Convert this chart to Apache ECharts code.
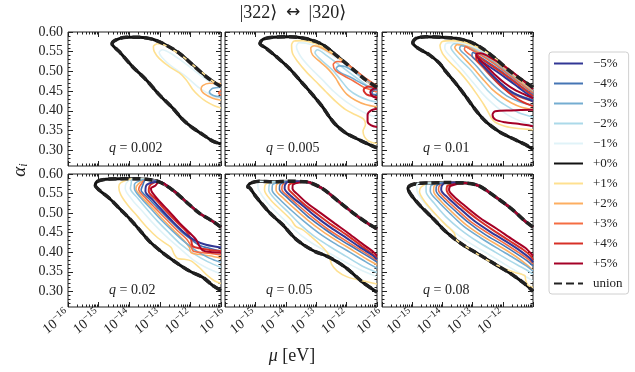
<!DOCTYPE html>
<html>
<head>
<meta charset="utf-8">
<script src="https://cdn.jsdelivr.net/npm/echarts@6/dist/echarts.min.js"></script>
<style>
  html, body { margin: 0; padding: 0; background: #fff; }
  #chart { width: 635px; height: 372px; }
</style>
</head>
<body>
<div id="chart"></div>
<script>
// contour levels, legend order
const levels = ['−5%', '−4%', '−3%', '−2%', '−1%', '+0%', '+1%', '+2%', '+3%', '+4%', '+5%']
const levelColors = {
  '−5%': '#313695', '−4%': '#4575b4', '−3%': '#74add1', '−2%': '#abd9e9', '−1%': '#e0f3f8',
  '+0%': '#111111',
  '+1%': '#fee090', '+2%': '#fdae61', '+3%': '#f46d43', '+4%': '#d73027', '+5%': '#a50026'
}
// draw order of the coloured levels (last on top)
const drawOrder = ['−1%', '+1%', '−2%', '+2%', '−3%', '+3%', '−4%', '+4%', '−5%', '+5%']
const panelLabels = ['0.002', '0.005', '0.01', '0.02', '0.05', '0.08']
const xTickExps = [-16, -15, -14, -13, -12]
const yTickLabels = [0.30, 0.35, 0.40, 0.45, 0.50, 0.55, 0.60]

// points are [log10(mu / eV), alpha_i]
const q002 = {
  top: [[-14.56, 0.570], [-14.43, 0.580], [-14.10, 0.5865], [-13.67, 0.5865], [-13.23, 0.5815], [-12.80, 0.567], [-12.36, 0.546], [-11.93, 0.517], [-11.49, 0.487], [-11.16, 0.469], [-11.0, 0.462]],
  bottom: [[-14.56, 0.570], [-14.32, 0.550], [-13.89, 0.512], [-13.45, 0.479], [-13.02, 0.441], [-12.58, 0.407], [-12.25, 0.378], [-11.93, 0.357], [-11.60, 0.340], [-11.27, 0.323], [-11.0, 0.316]],
  contours: {
    '+1%': [[[-11.0, 0.464], [-11.27, 0.475], [-11.60, 0.496], [-11.93, 0.517], [-12.25, 0.538], [-12.58, 0.555], [-12.85, 0.567], [-13.07, 0.570], [-13.21, 0.563], [-13.18, 0.550], [-13.02, 0.533], [-12.69, 0.512], [-12.36, 0.496], [-12.14, 0.479], [-11.93, 0.455], [-11.71, 0.437], [-11.49, 0.424], [-11.22, 0.413], [-11.0, 0.407]]],
    '−1%': [[[-11.0, 0.458], [-11.49, 0.480], [-11.93, 0.506], [-12.36, 0.531], [-12.69, 0.548], [-12.91, 0.555], [-13.02, 0.548], [-12.85, 0.529], [-12.53, 0.508], [-12.14, 0.487], [-11.71, 0.458], [-11.27, 0.437], [-11.0, 0.427]]],
    '+2%': [[[-11.0, 0.469], [-11.38, 0.470], [-11.60, 0.464], [-11.65, 0.455], [-11.54, 0.443], [-11.27, 0.432], [-11.0, 0.427]]],
    '−3%': [[[-11.0, 0.460], [-11.27, 0.457], [-11.38, 0.448], [-11.25, 0.439], [-11.0, 0.435]]],
    '+3%': [[[-11.0, 0.451], [-11.08, 0.445], [-11.0, 0.439]]]
  }
}

const q005 = {
  top: [[-14.85, 0.571], [-14.76, 0.581], [-14.43, 0.5865], [-13.89, 0.588], [-13.45, 0.585], [-13.02, 0.576], [-12.69, 0.563], [-12.36, 0.542], [-12.03, 0.521], [-11.71, 0.500], [-11.38, 0.479], [-11.0, 0.460]],
  bottom: [[-14.85, 0.571], [-14.65, 0.559], [-14.32, 0.538], [-13.89, 0.508], [-13.45, 0.470], [-13.12, 0.441], [-12.80, 0.411], [-12.58, 0.386], [-12.36, 0.365], [-12.03, 0.344], [-11.60, 0.327], [-11.27, 0.315], [-11.0, 0.306]],
  contours: {
    '+1%': [[[-11.0, 0.460], [-11.38, 0.481], [-11.71, 0.502], [-12.14, 0.528], [-12.58, 0.553], [-13.02, 0.570], [-13.45, 0.578], [-13.72, 0.577], [-13.81, 0.567], [-13.78, 0.546], [-13.61, 0.525], [-13.34, 0.500], [-13.02, 0.475], [-12.69, 0.449], [-12.36, 0.424], [-12.03, 0.403], [-11.71, 0.390], [-11.44, 0.379], [-11.38, 0.365], [-11.46, 0.348], [-11.41, 0.334], [-11.27, 0.323], [-11.0, 0.317]]],
    '−1%': [[[-11.0, 0.455], [-11.49, 0.483], [-12.03, 0.517], [-12.58, 0.546], [-13.12, 0.567], [-13.56, 0.573], [-13.65, 0.563], [-13.51, 0.538], [-13.18, 0.508], [-12.80, 0.479], [-12.42, 0.449], [-12.03, 0.424], [-11.60, 0.403], [-11.27, 0.390], [-11.0, 0.384]]],
    '+2%': [[[-11.0, 0.454], [-11.38, 0.479], [-11.71, 0.500], [-12.03, 0.521], [-12.36, 0.539], [-12.80, 0.559], [-13.07, 0.565], [-13.18, 0.559], [-13.12, 0.542], [-12.85, 0.523], [-12.58, 0.504], [-12.36, 0.483], [-12.20, 0.462], [-11.98, 0.441], [-11.71, 0.427], [-11.38, 0.416], [-11.0, 0.410]]],
    '−2%': [[[-11.0, 0.446], [-11.38, 0.467], [-11.82, 0.492], [-12.25, 0.517], [-12.69, 0.542], [-12.96, 0.555], [-13.04, 0.548], [-12.85, 0.530], [-12.47, 0.504], [-12.20, 0.479], [-11.93, 0.454], [-11.60, 0.437], [-11.27, 0.427], [-11.0, 0.422]]],
    '−3%': [[[-11.0, 0.462], [-11.38, 0.479], [-11.71, 0.497], [-12.03, 0.512], [-12.25, 0.514], [-12.34, 0.508], [-12.20, 0.497], [-11.87, 0.485], [-11.49, 0.469], [-11.22, 0.459], [-11.0, 0.454]]],
    '+3%': [[[-11.0, 0.464], [-11.38, 0.483], [-11.76, 0.506], [-12.09, 0.523], [-12.31, 0.525], [-12.44, 0.517], [-12.36, 0.502], [-12.09, 0.489], [-11.76, 0.475], [-11.44, 0.460], [-11.16, 0.452], [-11.0, 0.448]]],
    '−4%': [[[-11.0, 0.454], [-11.16, 0.451], [-11.16, 0.443], [-11.0, 0.441]]],
    '+4%': [[[-11.0, 0.460], [-11.27, 0.462], [-11.44, 0.453], [-11.33, 0.441], [-11.0, 0.435]]],
    '+5%': [
      [[-11.0, 0.457], [-11.14, 0.455], [-11.22, 0.447], [-11.14, 0.437], [-11.0, 0.432]],
      [[-11.0, 0.405], [-11.19, 0.401], [-11.31, 0.390], [-11.31, 0.373], [-11.19, 0.363], [-11.0, 0.359]]
    ]
  }
}

const q01 = {
  top: [[-14.98, 0.573], [-14.87, 0.584], [-14.54, 0.588], [-14.0, 0.5865], [-13.56, 0.584], [-13.12, 0.576], [-12.69, 0.559], [-12.25, 0.533], [-11.82, 0.504], [-11.38, 0.479], [-11.0, 0.460]],
  bottom: [[-14.98, 0.573], [-14.81, 0.559], [-14.43, 0.542], [-14.10, 0.521], [-13.89, 0.500], [-13.56, 0.470], [-13.23, 0.437], [-12.91, 0.403], [-12.58, 0.374], [-12.14, 0.348], [-11.71, 0.331], [-11.27, 0.315], [-11.0, 0.302]],
  contours: {
    '+1%': [[[-11.0, 0.455], [-11.49, 0.485], [-11.93, 0.514], [-12.36, 0.539], [-12.80, 0.560], [-13.23, 0.573], [-13.67, 0.578], [-14.0, 0.576], [-14.08, 0.565], [-14.0, 0.546], [-13.78, 0.525], [-13.45, 0.500], [-13.12, 0.470], [-12.85, 0.441], [-12.63, 0.416], [-12.47, 0.395], [-12.38, 0.382], [-12.25, 0.371], [-11.93, 0.361], [-11.49, 0.355], [-11.0, 0.352]]],
    '−1%': [[[-11.0, 0.453], [-11.49, 0.483], [-11.93, 0.511], [-12.36, 0.536], [-12.80, 0.556], [-13.23, 0.569], [-13.67, 0.573], [-13.89, 0.570], [-13.92, 0.559], [-13.67, 0.533], [-13.34, 0.504], [-13.02, 0.475], [-12.69, 0.445], [-12.36, 0.420], [-12.03, 0.399], [-11.71, 0.384], [-11.38, 0.373], [-11.0, 0.363]]],
    '−2%': [[[-11.0, 0.452], [-11.49, 0.480], [-11.93, 0.507], [-12.36, 0.533], [-12.80, 0.553], [-13.23, 0.565], [-13.61, 0.570], [-13.72, 0.561], [-13.45, 0.533], [-13.12, 0.508], [-12.80, 0.479], [-12.47, 0.449], [-12.14, 0.426], [-11.82, 0.410], [-11.49, 0.396], [-11.0, 0.384]]],
    '+2%': [[[-11.0, 0.449], [-11.49, 0.479], [-11.93, 0.506], [-12.36, 0.529], [-12.80, 0.549], [-13.18, 0.563], [-13.51, 0.568], [-13.59, 0.561], [-13.34, 0.538], [-13.02, 0.512], [-12.69, 0.483], [-12.36, 0.455], [-12.03, 0.435], [-11.71, 0.420], [-11.38, 0.409], [-11.0, 0.403]]],
    '−3%': [[[-11.0, 0.447], [-11.49, 0.475], [-11.93, 0.502], [-12.36, 0.526], [-12.80, 0.546], [-13.12, 0.559], [-13.37, 0.565], [-13.43, 0.559], [-13.18, 0.538], [-12.85, 0.512], [-12.53, 0.483], [-12.20, 0.458], [-11.87, 0.438], [-11.49, 0.424], [-11.0, 0.413]]],
    '+3%': [[[-11.0, 0.445], [-11.49, 0.473], [-11.93, 0.499], [-12.36, 0.523], [-12.74, 0.542], [-13.07, 0.556], [-13.23, 0.563], [-13.27, 0.556], [-13.02, 0.538], [-12.69, 0.512], [-12.36, 0.485], [-12.03, 0.460], [-11.71, 0.444], [-11.38, 0.433], [-11.0, 0.424]]],
    '−4%': [[[-11.0, 0.441], [-11.49, 0.468], [-11.93, 0.494], [-12.36, 0.517], [-12.74, 0.536], [-12.99, 0.548], [-13.02, 0.540], [-12.74, 0.521], [-12.42, 0.491], [-12.09, 0.466], [-11.76, 0.447], [-11.38, 0.437], [-11.0, 0.428]]],
    '+4%': [[[-11.0, 0.437], [-11.49, 0.466], [-11.93, 0.491], [-12.36, 0.514], [-12.69, 0.531], [-12.88, 0.542], [-12.88, 0.533], [-12.63, 0.512], [-12.31, 0.483], [-11.98, 0.458], [-11.65, 0.437], [-11.33, 0.422], [-11.0, 0.412]]],
    '−5%': [[[-11.0, 0.432], [-11.49, 0.460], [-11.93, 0.485], [-12.36, 0.508], [-12.69, 0.525], [-12.80, 0.533], [-12.77, 0.525], [-12.47, 0.500], [-12.14, 0.475], [-11.82, 0.454], [-11.49, 0.439], [-11.0, 0.424]]],
    '+5%': [
      [[-11.0, 0.455], [-11.49, 0.487], [-11.93, 0.512], [-12.36, 0.533], [-12.74, 0.546], [-12.88, 0.544], [-12.85, 0.536], [-12.58, 0.516], [-12.25, 0.491], [-11.93, 0.470], [-11.60, 0.453], [-11.27, 0.441], [-11.0, 0.432]],
      [[-11.0, 0.403], [-11.71, 0.401], [-12.25, 0.399], [-12.34, 0.390], [-12.25, 0.378], [-11.93, 0.371], [-11.49, 0.367], [-11.0, 0.361]]
    ]
  }
}

// for the larger q the contours run along the top edge, only the lower branch is listed
const q02 = {
  top: [[-15.11, 0.571], [-15.03, 0.5815], [-14.76, 0.5865], [-14.32, 0.588], [-13.89, 0.588], [-13.45, 0.5865], [-13.02, 0.580], [-12.58, 0.559], [-12.14, 0.529], [-11.71, 0.500], [-11.27, 0.479], [-11.0, 0.464]],
  bottom: [[-15.11, 0.571], [-14.98, 0.559], [-14.65, 0.538], [-14.32, 0.512], [-14.0, 0.487], [-13.67, 0.458], [-13.34, 0.428], [-12.91, 0.399], [-12.47, 0.374], [-12.03, 0.352], [-11.60, 0.336], [-11.27, 0.315], [-11.0, 0.302]],
  branches: {
    '+1%': [[-14.27, 0.578], [-14.34, 0.567], [-14.27, 0.546], [-14.05, 0.521], [-13.72, 0.491], [-13.40, 0.462], [-13.07, 0.437], [-12.80, 0.422], [-12.63, 0.412], [-12.53, 0.395], [-12.42, 0.384], [-12.20, 0.382], [-11.98, 0.378], [-11.71, 0.361], [-11.44, 0.340], [-11.22, 0.327], [-11.0, 0.320]],
    '−1%': [[-14.10, 0.576], [-14.13, 0.563], [-13.89, 0.533], [-13.56, 0.504], [-13.23, 0.475], [-12.80, 0.441], [-12.36, 0.411], [-11.93, 0.382], [-11.49, 0.361], [-11.0, 0.344]],
    '−2%': [[-13.94, 0.573], [-13.96, 0.563], [-13.72, 0.538], [-13.40, 0.508], [-13.07, 0.479], [-12.69, 0.449], [-12.31, 0.420], [-11.87, 0.395], [-11.44, 0.376], [-11.0, 0.361]],
    '−3%': [[-13.83, 0.573], [-13.83, 0.563], [-13.61, 0.538], [-13.29, 0.511], [-12.96, 0.483], [-12.58, 0.454], [-12.20, 0.427], [-11.82, 0.404], [-11.38, 0.385], [-11.0, 0.374]],
    '+2%': [[-13.72, 0.573], [-13.78, 0.563], [-13.56, 0.539], [-13.23, 0.512], [-12.91, 0.485], [-12.53, 0.455], [-12.20, 0.429], [-12.03, 0.412], [-11.98, 0.399], [-11.76, 0.395], [-11.38, 0.391], [-11.0, 0.385]],
    '+3%': [[-13.62, 0.573], [-13.69, 0.561], [-13.47, 0.539], [-13.14, 0.512], [-12.80, 0.485], [-12.42, 0.455], [-12.12, 0.433], [-11.98, 0.416], [-11.91, 0.403], [-11.60, 0.399], [-11.27, 0.396], [-11.0, 0.393]],
    '−4%': [[-13.55, 0.573], [-13.61, 0.559], [-13.37, 0.538], [-13.04, 0.511], [-12.69, 0.483], [-12.31, 0.454], [-11.98, 0.433], [-11.71, 0.418], [-11.38, 0.410], [-11.0, 0.403]],
    '−5%': [[-13.42, 0.573], [-13.47, 0.556], [-13.23, 0.534], [-12.91, 0.506], [-12.56, 0.477], [-12.20, 0.450], [-11.87, 0.431], [-11.49, 0.419], [-11.0, 0.412]],
    '+4%': [[-13.30, 0.573], [-13.36, 0.556], [-13.12, 0.534], [-12.80, 0.506], [-12.47, 0.479], [-12.14, 0.454], [-11.98, 0.433], [-11.93, 0.416], [-11.71, 0.410], [-11.38, 0.406], [-11.0, 0.403]],
    '+5%': [[-13.15, 0.570], [-13.29, 0.563], [-13.25, 0.553], [-13.02, 0.531], [-12.69, 0.504], [-12.36, 0.475], [-12.03, 0.450], [-11.82, 0.433], [-11.73, 0.419], [-11.60, 0.405], [-11.27, 0.400], [-11.0, 0.399]]
  }
}

const q05 = {
  top: [[-15.25, 0.567], [-15.17, 0.576], [-14.87, 0.5815], [-14.43, 0.580], [-13.89, 0.5815], [-13.34, 0.580], [-12.80, 0.563], [-12.25, 0.529], [-11.71, 0.496], [-11.27, 0.472], [-11.0, 0.460]],
  bottom: [[-15.25, 0.567], [-15.18, 0.564], [-14.98, 0.542], [-14.53, 0.501], [-14.10, 0.470], [-13.66, 0.433], [-13.12, 0.405], [-12.57, 0.387], [-12.03, 0.361], [-11.48, 0.324], [-11.0, 0.298]],
  branches: {
    '−1%': [[-14.92, 0.573], [-14.89, 0.559], [-14.59, 0.525], [-14.16, 0.491], [-13.72, 0.458], [-13.23, 0.428], [-12.69, 0.403], [-12.14, 0.379], [-11.60, 0.357], [-11.0, 0.337]],
    '+1%': [[-14.67, 0.573], [-14.70, 0.559], [-14.49, 0.533], [-14.16, 0.508], [-13.83, 0.483], [-13.67, 0.466], [-13.45, 0.458], [-13.18, 0.441], [-12.85, 0.418], [-12.60, 0.395], [-12.49, 0.369], [-12.31, 0.352], [-11.98, 0.337], [-11.49, 0.327], [-11.0, 0.319]],
    '−2%': [[-14.54, 0.573], [-14.56, 0.559], [-14.32, 0.533], [-13.94, 0.504], [-13.51, 0.470], [-13.07, 0.441], [-12.58, 0.416], [-12.03, 0.390], [-11.49, 0.365], [-11.0, 0.348]],
    '−3%': [[-14.43, 0.573], [-14.45, 0.559], [-14.21, 0.536], [-13.83, 0.508], [-13.40, 0.479], [-12.91, 0.449], [-12.42, 0.424], [-11.87, 0.399], [-11.38, 0.376], [-11.0, 0.359]],
    '+2%': [[-14.30, 0.573], [-14.32, 0.559], [-14.08, 0.538], [-13.72, 0.512], [-13.29, 0.483], [-12.80, 0.454], [-12.31, 0.429], [-11.76, 0.403], [-11.33, 0.382], [-11.0, 0.368]],
    '−4%': [[-14.19, 0.573], [-14.21, 0.561], [-13.99, 0.542], [-13.64, 0.517], [-13.21, 0.487], [-12.74, 0.460], [-12.25, 0.434], [-11.71, 0.409], [-11.27, 0.388], [-11.0, 0.375]],
    '+3%': [[-14.10, 0.573], [-14.13, 0.561], [-13.91, 0.542], [-13.56, 0.518], [-13.12, 0.489], [-12.67, 0.462], [-12.18, 0.437], [-11.65, 0.411], [-11.22, 0.390], [-11.0, 0.378]],
    '−5%': [[-14.02, 0.573], [-14.04, 0.563], [-13.83, 0.544], [-13.47, 0.521], [-13.04, 0.493], [-12.58, 0.466], [-12.09, 0.441], [-11.60, 0.415], [-11.16, 0.393], [-11.0, 0.382]],
    '+4%': [[-13.89, 0.573], [-13.91, 0.563], [-13.72, 0.546], [-13.40, 0.523], [-12.96, 0.497], [-12.49, 0.470], [-12.01, 0.445], [-11.54, 0.418], [-11.16, 0.396], [-11.0, 0.385]],
    '+5%': [[-13.76, 0.573], [-13.78, 0.563], [-13.61, 0.548], [-13.29, 0.525], [-12.85, 0.500], [-12.38, 0.473], [-11.93, 0.448], [-11.49, 0.422], [-11.11, 0.400], [-11.0, 0.391]]
  }
}

const q08 = {
  top: [[-15.14, 0.563], [-15.06, 0.571], [-14.81, 0.576], [-14.43, 0.577], [-13.89, 0.578], [-13.23, 0.577], [-12.80, 0.570], [-12.25, 0.542], [-11.71, 0.511], [-11.27, 0.480], [-11.0, 0.464]],
  bottom: [[-15.14, 0.563], [-15.03, 0.546], [-14.76, 0.521], [-14.32, 0.487], [-13.89, 0.453], [-13.34, 0.420], [-12.80, 0.395], [-12.25, 0.369], [-11.71, 0.344], [-11.27, 0.319], [-11.0, 0.300]],
  branches: {
    '−1%': [[-14.85, 0.567], [-14.81, 0.550], [-14.49, 0.517], [-14.05, 0.483], [-13.56, 0.449], [-13.02, 0.420], [-12.47, 0.395], [-11.93, 0.369], [-11.38, 0.344], [-11.0, 0.327]],
    '+1%': [[-14.70, 0.567], [-14.76, 0.555], [-14.54, 0.525], [-14.21, 0.496], [-13.89, 0.470], [-13.61, 0.449], [-13.54, 0.432], [-13.34, 0.420], [-12.91, 0.399], [-12.47, 0.378], [-12.03, 0.361], [-11.60, 0.348], [-11.27, 0.340], [-11.24, 0.327], [-11.16, 0.315], [-11.0, 0.310]],
    '−2%': [[-14.54, 0.570], [-14.54, 0.555], [-14.27, 0.525], [-13.89, 0.491], [-13.40, 0.458], [-12.85, 0.428], [-12.31, 0.403], [-11.76, 0.378], [-11.27, 0.357], [-11.0, 0.344]],
    '−3%': [[-14.38, 0.570], [-14.40, 0.556], [-14.13, 0.529], [-13.76, 0.500], [-13.29, 0.466], [-12.74, 0.437], [-12.20, 0.411], [-11.65, 0.386], [-11.22, 0.365], [-11.0, 0.352]],
    '+2%': [[-14.27, 0.570], [-14.29, 0.556], [-14.05, 0.531], [-13.67, 0.502], [-13.21, 0.470], [-12.67, 0.441], [-12.12, 0.416], [-11.60, 0.391], [-11.22, 0.369], [-11.0, 0.354]],
    '−4%': [[-14.19, 0.570], [-14.21, 0.558], [-13.97, 0.534], [-13.58, 0.506], [-13.12, 0.475], [-12.58, 0.445], [-12.03, 0.420], [-11.52, 0.395], [-11.16, 0.376], [-11.0, 0.365]],
    '+3%': [[-14.10, 0.570], [-14.13, 0.559], [-13.89, 0.536], [-13.50, 0.508], [-13.04, 0.477], [-12.49, 0.449], [-11.95, 0.423], [-11.47, 0.399], [-11.14, 0.381], [-11.0, 0.369]],
    '−5%': [[-14.02, 0.570], [-14.04, 0.560], [-13.80, 0.538], [-13.41, 0.511], [-12.96, 0.481], [-12.41, 0.452], [-11.88, 0.427], [-11.41, 0.403], [-11.11, 0.385], [-11.0, 0.374]],
    '+4%': [[-13.83, 0.570], [-13.86, 0.559], [-13.69, 0.539], [-13.32, 0.514], [-12.85, 0.485], [-12.31, 0.456], [-11.79, 0.430], [-11.33, 0.407], [-11.07, 0.390], [-11.0, 0.380]],
    '+5%': [[-13.72, 0.570], [-13.78, 0.559], [-13.61, 0.542], [-13.23, 0.517], [-12.74, 0.487], [-12.20, 0.460], [-11.71, 0.434], [-11.27, 0.412], [-11.0, 0.391]]
  }
}

const panels = [q002, q005, q01, q02, q05, q08]
// grid boxes: left, top, width, height
const gridBoxes = [
  [68, 32, 153, 134], [225, 32, 152, 134], [382, 32, 151, 134],
  [68, 174, 153, 133], [225, 174, 152, 133], [382, 174, 151, 133]
]

const FONT = '"Liberation Serif", "DejaVu Serif", serif'
const INK = '#222'

const minorX = []
xTickExps.forEach(n => {
  for (let k = 2; k <= 9; k++) minorX.push(n + Math.log10(k))
})
const majorX = xTickExps.concat([-11])
const minorY = []
for (let h = 27; h < 60; h++) {
  if (h % 5 !== 0) minorY.push(h / 100)
}

function xAxis (i, pos, ticks, len, withLabels) {
  return {
    type: 'value',
    gridIndex: i,
    position: pos,
    min: -16,
    max: -11,
    axisLine: { show: false },
    splitLine: { show: false },
    axisTick: { show: true, inside: true, length: len, customValues: ticks, lineStyle: { color: INK, width: 1 } },
    axisLabel: withLabels ? {
      show: true,
      customValues: xTickExps,
      rotate: 38,
      margin: 6,
      formatter: v => '{b|10}{s|−' + Math.abs(v) + '}',
      rich: {
        b: { fontFamily: FONT, fontSize: 14, color: INK },
        s: { fontFamily: FONT, fontSize: 10, color: INK, padding: [0, 0, 9, 0] }
      }
    } : { show: false }
  }
}

function yAxis (i, pos, ticks, len, withLabels) {
  return {
    type: 'value',
    gridIndex: i,
    position: pos,
    min: 0.26,
    max: 0.60,
    axisLine: { show: false },
    splitLine: { show: false },
    axisTick: { show: true, inside: true, length: len, customValues: ticks, lineStyle: { color: INK, width: 1 } },
    axisLabel: withLabels ? {
      show: true,
      customValues: yTickLabels,
      margin: 5,
      formatter: v => v.toFixed(2),
      fontFamily: FONT,
      fontSize: 14,
      color: INK
    } : { show: false }
  }
}

const grids = []
const xAxes = []
const yAxes = []
const series = []
const graphics = []

function lineSeries (name, data, i, width, extra) {
  return Object.assign({
    type: 'line',
    name: name,
    data: data,
    xAxisIndex: 4 * i,
    yAxisIndex: 4 * i,
    symbol: 'none',
    showSymbol: false,
    smooth: 0.3,
    silent: true,
    animation: false,
    itemStyle: { color: levelColors[name] || INK },
    lineStyle: { color: levelColors[name] || INK, width: width }
  }, extra || {})
}

panels.forEach((p, i) => {
  const box = gridBoxes[i]
  const row = i < 3 ? 0 : 1
  const col = i % 3
  grids.push({
    left: box[0], top: box[1], width: box[2], height: box[3],
    show: true, borderColor: INK, borderWidth: 1, backgroundColor: 'transparent'
  })
  xAxes.push(xAxis(i, 'bottom', majorX, 5, row === 1))
  xAxes.push(xAxis(i, 'bottom', minorX, 2.5, false))
  xAxes.push(xAxis(i, 'top', majorX, 5, false))
  xAxes.push(xAxis(i, 'top', minorX, 2.5, false))
  yAxes.push(yAxis(i, 'left', yTickLabels, 5, col === 0))
  yAxes.push(yAxis(i, 'left', minorY, 2.5, false))
  yAxes.push(yAxis(i, 'right', yTickLabels, 5, false))
  yAxes.push(yAxis(i, 'right', minorY, 2.5, false))

  const outline = p.top.slice().reverse().concat(p.bottom.slice(1))
  series.push(lineSeries('+0%', outline, i, 3, { z: 2 }))

  drawOrder.forEach(lv => {
    let segs = []
    if (p.contours && p.contours[lv]) segs = p.contours[lv]
    if (p.branches && p.branches[lv]) {
      const b = p.branches[lv]
      const upper = p.top.filter(pt => pt[0] > b[0][0]).reverse()
      segs = [upper.concat(b)]
    }
    const w = (lv === '+4%' || lv === '+5%' || lv === '−5%') ? 2 : 1.6
    segs.forEach(s => series.push(lineSeries(lv, s, i, w, { z: 3 })))
  })

  series.push(lineSeries('union', outline, i, 3.5, {
    z: 4,
    itemStyle: { color: INK },
    lineStyle: { color: INK, width: 3.5, type: [8, 4] }
  }))

  graphics.push({
    type: 'text',
    x: box[0] + 41,
    y: box[1] + 116,
    style: {
      text: '{i|q} = ' + panelLabels[i],
      verticalAlign: 'middle',
      fill: INK,
      font: '14px ' + FONT,
      rich: { i: { fontStyle: 'italic', fontFamily: FONT, fontSize: 14, fill: INK } }
    }
  })
})

graphics.push({
  type: 'text', x: 293, y: 13,
  style: {
    text: '|322⟩ {r|↔} |320⟩', align: 'center', verticalAlign: 'middle', fill: INK, font: '18px ' + FONT,
    rich: { r: { fontFamily: '"DejaVu Sans", sans-serif', fontSize: 17, fill: INK, padding: [0, 4, 0, 4] } }
  }
})
graphics.push({
  type: 'text', x: 20, y: 170, rotation: Math.PI / 2,
  style: {
    text: '{a|α}{s|i}', align: 'center', verticalAlign: 'middle',
    rich: {
      a: { fontStyle: 'italic', fontFamily: FONT, fontSize: 19, fill: INK },
      s: { fontStyle: 'italic', fontFamily: FONT, fontSize: 12, fill: INK, padding: [8, 0, 0, 0] }
    }
  }
})
graphics.push({
  type: 'text', x: 292, y: 356,
  style: {
    text: '{m|μ} [eV]', align: 'center', verticalAlign: 'middle', fill: INK, font: '18px ' + FONT,
    rich: { m: { fontStyle: 'italic', fontFamily: FONT, fontSize: 18, fill: INK } }
  }
})

const chart = echarts.init(document.getElementById('chart'))
chart.setOption({
  animation: false,
  backgroundColor: '#fff',
  grid: grids,
  xAxis: xAxes,
  yAxis: yAxes,
  legend: {
    data: levels.concat(['union']),
    orient: 'vertical',
    left: 549,
    top: 52,
    padding: [5, 6, 4, 4],
    itemGap: 7,
    itemWidth: 29,
    itemHeight: 12,
    borderColor: '#d0d0d0',
    borderWidth: 1,
    borderRadius: 3,
    selectedMode: false,
    itemStyle: { opacity: 0 },
    lineStyle: { width: 2 },
    textStyle: { fontFamily: FONT, fontSize: 13, color: INK, padding: [0, 0, 0, 5] }
  },
  graphic: graphics,
  series: series
})
</script>
</body>
</html>
